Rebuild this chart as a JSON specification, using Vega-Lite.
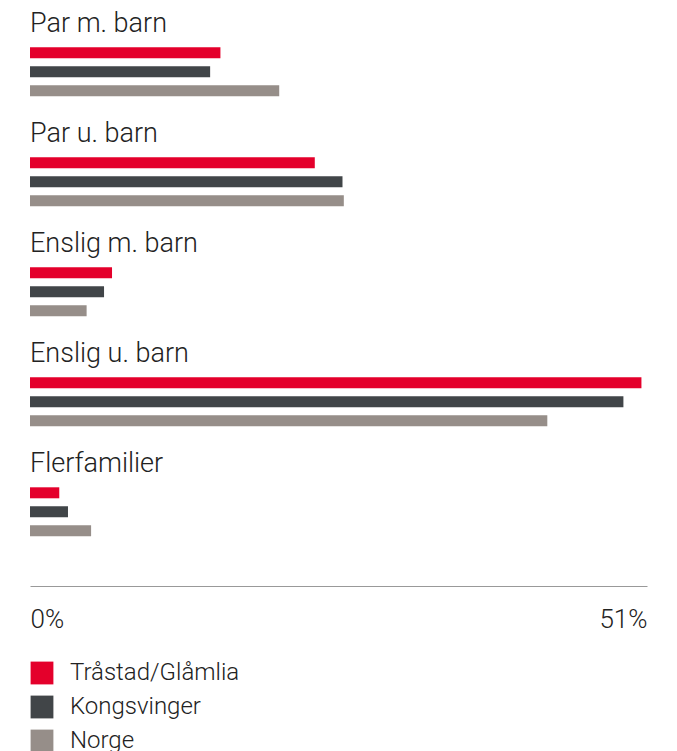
{
  "$schema": "https://vega.github.io/schema/vega-lite/v6.json",
  "width": 617,
  "height": 586,
  "autosize": {"type": "none"},
  "padding": {"left": 30, "top": 0, "right": 30, "bottom": 165},
  "background": "white",
  "config": {"view": {"stroke": null}, "font": "Roboto"},
  "datasets": {
    "bars": [
      {"cat": "Par m. barn", "series": "Tråstad/Glåmlia", "value": 15.74},
      {"cat": "Par m. barn", "series": "Kongsvinger", "value": 14.89},
      {"cat": "Par m. barn", "series": "Norge", "value": 20.6},
      {"cat": "Par u. barn", "series": "Tråstad/Glåmlia", "value": 23.54},
      {"cat": "Par u. barn", "series": "Kongsvinger", "value": 25.83},
      {"cat": "Par u. barn", "series": "Norge", "value": 25.94},
      {"cat": "Enslig m. barn", "series": "Tråstad/Glåmlia", "value": 6.78},
      {"cat": "Enslig m. barn", "series": "Kongsvinger", "value": 6.12},
      {"cat": "Enslig m. barn", "series": "Norge", "value": 4.68},
      {"cat": "Enslig u. barn", "series": "Tråstad/Glåmlia", "value": 50.54},
      {"cat": "Enslig u. barn", "series": "Kongsvinger", "value": 49.05},
      {"cat": "Enslig u. barn", "series": "Norge", "value": 42.76},
      {"cat": "Flerfamilier", "series": "Tråstad/Glåmlia", "value": 2.42},
      {"cat": "Flerfamilier", "series": "Kongsvinger", "value": 3.14},
      {"cat": "Flerfamilier", "series": "Norge", "value": 5.05}
    ],
    "cats": [
      {"cat": "Par m. barn"},
      {"cat": "Par u. barn"},
      {"cat": "Enslig m. barn"},
      {"cat": "Enslig u. barn"},
      {"cat": "Flerfamilier"}
    ]
  },
  "layer": [
    {
      "data": {"name": "bars"},
      "mark": {"type": "bar"},
      "encoding": {
        "y": {
          "field": "cat", "type": "nominal",
          "sort": ["Par m. barn", "Par u. barn", "Enslig m. barn", "Enslig u. barn", "Flerfamilier"],
          "scale": {"paddingInner": 0, "paddingOuter": 0.1636, "align": 0},
          "axis": null
        },
        "yOffset": {
          "field": "series", "type": "nominal",
          "scale": {
            "domain": ["_a", "_b", "Tråstad/Glåmlia", "Kongsvinger", "Norge"],
            "paddingInner": 0.4211, "paddingOuter": 0.605, "align": 0.404
          }
        },
        "x": {
          "field": "value", "type": "quantitative",
          "scale": {"domain": [0, 51], "nice": false},
          "axis": {
            "values": [0, 51],
            "title": null,
            "grid": false,
            "ticks": false,
            "labelExpr": "datum.value + '%'",
            "labelFlush": true,
            "labelFont": "Roboto",
            "labelFontWeight": 300,
            "labelFontSize": 26,
            "labelColor": "#222222",
            "labelPadding": 20,
            "domainColor": "#999999",
            "domainWidth": 1
          }
        },
        "color": {
          "field": "series", "type": "nominal",
          "scale": {
            "domain": ["Tråstad/Glåmlia", "Kongsvinger", "Norge"],
            "range": ["#e4002b", "#414548", "#968e89"]
          },
          "legend": {
            "title": null,
            "orient": "none",
            "legendX": 0,
            "legendY": 661,
            "direction": "vertical",
            "symbolType": "square",
            "symbolSize": 520,
            "symbolStrokeWidth": 0,
            "symbolOpacity": 1,
            "labelFont": "Roboto",
            "labelFontWeight": 300,
            "labelFontSize": 24,
            "labelColor": "#222222",
            "labelLimit": 0,
            "labelOffset": 16,
            "rowPadding": 10,
            "padding": 0
          }
        }
      }
    },
    {
      "data": {"name": "cats"},
      "mark": {"type": "text", "align": "left", "baseline": "alphabetic", "dy": 31.7, "font": "Roboto", "fontWeight": 300, "fontSize": 27, "color": "#222222"},
      "encoding": {
        "y": {"field": "cat", "type": "nominal", "bandPosition": 0,
          "sort": ["Par m. barn", "Par u. barn", "Enslig m. barn", "Enslig u. barn", "Flerfamilier"]},
        "x": {"datum": 0, "type": "quantitative"},
        "text": {"field": "cat"}
      }
    }
  ]
}
